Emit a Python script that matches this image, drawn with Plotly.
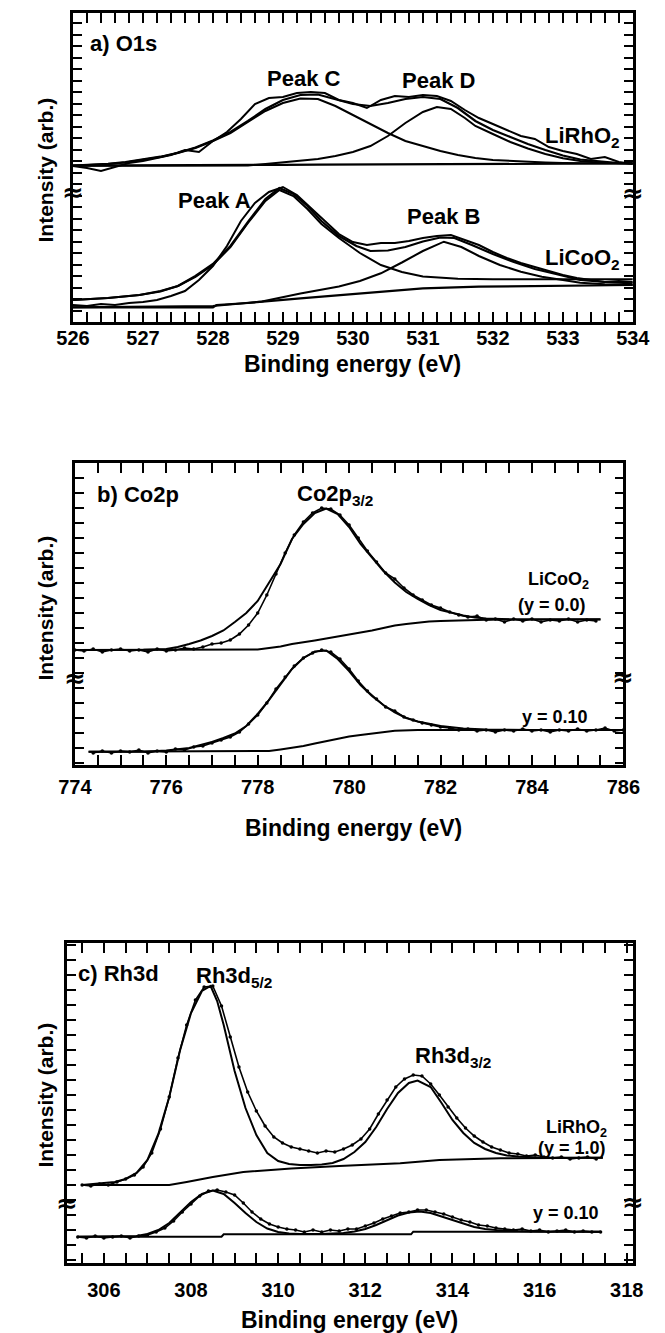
import plotly.graph_objects as go

W, H = 665, 1333
FONT = "Liberation Sans"

# ---------------- a) O1s ----------------
o1s_x_labels = [526, 527, 528, 529, 530, 531, 532, 533, 534]

# LiRhO2 (upper group)
rh_bg_x = [526.0, 528.0, 528.5, 528.75, 529.0, 529.5, 530.5, 531.0, 531.5, 532.0, 532.5, 533.0, 534.0]
rh_bg_y = [156.3, 156.4, 156.5, 156.8, 157.2, 157.3, 157.5, 157.8, 158.0, 158.2, 158.3, 158.4, 158.5]

rh_peakC_x = [526.0, 526.25, 526.5, 526.75, 527.0, 527.25, 527.5, 527.75, 528.0, 528.25, 528.5, 528.75,
              529.0, 529.25, 529.5, 529.75, 530.0, 530.25, 530.5, 530.75, 531.0, 531.25, 531.5, 531.75,
              532.0, 532.25, 532.5, 532.75, 533.0, 533.5, 534.0]
rh_peakC_y = [156.3, 157.0, 158.0, 159.5, 162.0, 165.0, 169.0, 174.0, 181.0, 189.0, 200.0, 211.0,
              219.0, 223.5, 223.0, 216.0, 207.0, 198.0, 189.0, 181.0, 176.0, 171.0, 167.0, 164.0,
              162.0, 161.0, 160.0, 159.5, 159.0, 158.6, 158.5]

rh_peakD_x = [526.0, 528.5, 528.75, 529.0, 529.25, 529.5, 529.75, 530.0, 530.25, 530.5, 530.75, 531.0,
              531.2, 531.4, 531.6, 531.75, 532.0, 532.25, 532.5, 532.75, 533.0, 533.25, 533.5, 534.0]
rh_peakD_y = [156.3, 156.5, 158.0, 159.5, 161.0, 163.0, 166.0, 170.0, 176.0, 186.0, 199.0, 210.0,
              215.0, 213.0, 204.0, 196.0, 188.0, 180.0, 173.5, 168.0, 163.7, 161.0, 159.5, 158.6]

rh_fit_x = [526.0, 526.25, 526.5, 526.75, 527.0, 527.25, 527.5, 527.75, 528.0, 528.25, 528.5, 528.75,
            529.0, 529.25, 529.5, 529.75, 530.0, 530.25, 530.5, 530.75, 531.0, 531.25, 531.5, 531.75,
            532.0, 532.25, 532.5, 532.75, 533.0, 533.25, 533.5, 533.75, 534.0]
rh_fit_y = [156.5, 157.2, 158.2, 159.8, 162.3, 165.3, 169.3, 174.5, 181.5, 190.0, 201.0, 213.0,
            222.0, 227.0, 227.5, 223.0, 218.0, 216.0, 219.0, 223.0, 225.0, 223.0, 214.0, 201.0,
            192.0, 185.0, 178.0, 172.0, 166.5, 162.5, 160.5, 159.2, 158.8]

rh_data_x = [526.0, 526.2, 526.4, 526.6, 526.8, 527.0, 527.2, 527.4, 527.6, 527.8, 528.0, 528.2,
             528.4, 528.6, 528.8, 529.0, 529.2, 529.4, 529.6, 529.8, 530.0, 530.2, 530.4, 530.6,
             530.8, 531.0, 531.2, 531.4, 531.6, 531.8, 532.0, 532.2, 532.4, 532.6, 532.8, 533.0,
             533.2, 533.4, 533.6, 533.8, 534.0]
rh_data_y = [156, 154, 151, 155, 159, 161, 164, 167, 172, 170, 181, 190,
             203, 218, 224, 225, 229, 230, 229, 222, 219, 214, 222, 226,
             225, 227, 226, 221, 212, 204, 198, 192, 186, 183, 175, 171,
             168, 163, 165, 160, 158]

# LiCoO2 (lower group)
co_bg_x = [526.0, 528.0, 528.05, 528.5, 529.25, 530.0, 530.4, 531.0, 531.8, 532.5, 534.0]
co_bg_y = [14.7, 14.7, 17.0, 19.0, 23.7, 28.0, 30.3, 33.7, 35.3, 36.0, 37.0]

co_peakA_x = [526.0, 526.5, 526.95, 527.25, 527.5, 527.75, 528.0, 528.25, 528.5, 528.75, 528.95,
              529.15, 529.35, 529.55, 529.8, 530.1, 530.4, 530.7, 531.0, 531.5, 532.0, 534.0]
co_peakA_y = [22.0, 24.0, 27.0, 30.5, 36.0, 45.0, 57.0, 75.0, 99.0, 121.0, 132.0,
              126.0, 113.0, 98.0, 84.0, 69.0, 57.0, 50.0, 45.5, 43.3, 42.7, 42.7]

co_peakB_x = [526.0, 528.0, 528.4, 528.7, 529.25, 529.8, 530.1, 530.4, 530.7, 531.0, 531.3, 531.55,
              531.8, 532.1, 532.4, 532.7, 533.0, 533.25, 533.6, 534.0]
co_peakB_y = [14.7, 16.0, 18.5, 20.5, 28.5, 35.5, 41.0, 48.7, 59.5, 71.0, 80.3, 75.0,
              66.0, 57.0, 50.3, 45.3, 42.0, 39.3, 37.8, 37.0]

co_fit_x = [526.0, 526.5, 526.95, 527.25, 527.5, 527.75, 528.0, 528.25, 528.5, 528.75, 528.95, 529.15,
            529.35, 529.55, 529.8, 530.05, 530.25, 530.5, 530.75, 531.0, 531.25, 531.45, 531.7, 532.0,
            532.3, 532.6, 532.9, 533.25, 533.6, 534.0]
co_fit_y = [22.0, 24.0, 27.0, 31.0, 36.0, 46.0, 58.0, 76.0, 100.0, 123.0, 134.0, 128.0,
            116.0, 101.0, 86.0, 76.0, 71.0, 71.5, 75.0, 80.5, 84.5, 84.0, 77.0, 68.0,
            60.0, 53.0, 48.0, 42.0, 40.0, 38.7]

co_data_x = rh_data_x
co_data_y = [17, 16, 18, 17, 19, 20, 22, 26, 31, 42, 56, 76,
             101, 119, 130, 135, 127, 114, 101, 88, 80, 77, 79, 79,
             81, 84, 86, 87, 82, 77, 70, 64, 59, 55, 51, 47,
             44, 42, 40, 41, 40]

# ---------------- b) Co2p ----------------
co2p_x_labels = [774, 776, 778, 780, 782, 784, 786]

b0_bg_x = [774.0, 777.5, 778.0, 778.25, 778.5, 778.75, 779.0, 779.25, 779.5, 779.75, 780.0, 780.25,
           780.5, 780.75, 781.0, 781.25, 781.5, 781.75, 782.0, 782.5, 783.0, 785.5]
b0_bg_y = [115, 115, 115.5, 117, 118.5, 121, 122.5, 124.5, 126.5, 128.5, 130.5, 132,
           134.5, 137, 139.5, 141, 142.5, 143.5, 144, 145, 145.3, 145.7]

b0_fit_x = [774.0, 775.0, 775.5, 776.0, 776.25, 776.5, 776.75, 777.0, 777.25, 777.5, 777.75, 778.0,
            778.25, 778.5, 778.75, 779.0, 779.25, 779.5, 779.75, 780.0, 780.25, 780.5, 780.75, 781.0,
            781.25, 781.5, 781.75, 782.0, 782.25, 782.5, 782.75, 783.0, 783.5, 784.0, 785.5]
b0_fit_y = [115, 115, 115.2, 116, 118, 121, 124.5, 129, 134.5, 143, 152, 164,
            182, 201, 226, 241, 252, 256.5, 251, 238, 221, 207, 194, 182.5,
            173, 166, 160, 155, 152, 149.5, 147.5, 146.5, 145.7, 145.5, 145.5]

b0_data_x = [774.0, 774.2, 774.4, 774.6, 774.8, 775.0, 775.2, 775.4, 775.6, 775.8, 776.0, 776.2,
             776.4, 776.6, 776.8, 777.0, 777.2, 777.4, 777.6, 777.8, 778.0, 778.2, 778.4, 778.6,
             778.8, 779.0, 779.2, 779.4, 779.6, 779.8, 780.0, 780.2, 780.4, 780.6, 780.8, 781.0,
             781.2, 781.4, 781.6, 781.8, 782.0, 782.2, 782.4, 782.6, 782.8, 783.0, 783.2, 783.4,
             783.6, 783.8, 784.0, 784.2, 784.4, 784.6, 784.8, 785.0, 785.2, 785.4]
b0_data_y = [115, 114, 116, 113, 115, 116, 114, 115, 113, 116, 114, 115,
             117, 116, 118, 121, 122, 125, 131, 140, 152, 170, 191, 212,
             230, 243, 252, 257, 256, 250, 240, 227, 214, 203, 192, 186,
             177, 170, 165, 160, 157, 153, 150, 148, 149, 145, 146, 143,
             146, 144, 146, 143, 145, 144, 146, 143, 145, 144]

b1_bg_x = [774.3, 778.0, 778.25, 778.5, 778.75, 779.0, 779.25, 779.5, 779.75, 780.0, 780.25, 780.5,
           780.75, 781.0, 781.5, 786.0]
b1_bg_y = [13.3, 13.3, 14, 15.5, 17, 19, 21.5, 24, 26.5, 28.5, 30, 31.5,
           33, 34.3, 35, 35]

b1_fit_x = [774.3, 775.5, 776.0, 776.25, 776.5, 776.75, 777.0, 777.25, 777.5, 777.75, 778.0, 778.25,
            778.5, 778.75, 779.0, 779.25, 779.5, 779.75, 780.0, 780.25, 780.5, 780.75, 781.0, 781.25,
            781.5, 781.75, 782.0, 782.5, 783.0, 784.0, 786.0]
b1_fit_y = [13.3, 13.3, 14.5, 15.5, 17, 20, 23, 27, 31.5, 39, 51, 65,
            80, 96, 107, 113.5, 114.5, 106, 94, 80, 69, 60, 52.5, 47,
            43.5, 41, 39, 36.5, 35.5, 35, 35]

b1_data_x = [774.4, 774.6, 774.8, 775.0, 775.2, 775.4, 775.6, 775.8, 776.0, 776.2, 776.4, 776.6,
             776.8, 777.0, 777.2, 777.4, 777.6, 777.8, 778.0, 778.2, 778.4, 778.6, 778.8, 779.0,
             779.2, 779.4, 779.6, 779.8, 780.0, 780.2, 780.4, 780.6, 780.8, 781.0, 781.2, 781.4,
             781.6, 781.8, 782.0, 782.2, 782.4, 782.6, 782.8, 783.0, 783.2, 783.4, 783.6, 783.8,
             784.0, 784.2, 784.4, 784.6, 784.8, 785.0, 785.2, 785.4, 785.6, 785.8, 786.0]
b1_data_y = [12, 14, 12, 14, 13, 15, 12, 14, 13, 16, 15, 18,
             19, 22, 25, 28, 33, 41, 50, 62, 76, 88, 99, 107,
             112, 115, 113, 106, 96, 84, 74, 66, 58, 54, 48, 45,
             42, 40, 38, 37, 35, 36, 34, 35, 33, 35, 34, 36,
             34, 35, 33, 35, 34, 36, 34, 35, 37, 34, 35]

# ---------------- c) Rh3d ----------------
rh3d_x_labels = [306, 308, 310, 312, 314, 316, 318]

c0_bg_x = [305.5, 307.5, 307.9, 308.5, 309.2, 310.3, 311.4, 312.8, 313.7, 315.1, 317.45]
c0_bg_y = [78, 78, 81, 86, 91, 94.5, 97, 99.7, 103, 104.7, 105.3]

c0_fit_x = [305.5, 306.0, 306.25, 306.5, 306.75, 307.0, 307.25, 307.5, 307.75, 308.0, 308.25, 308.45,
            308.6, 308.75, 309.0, 309.25, 309.5, 309.75, 310.0, 310.25, 310.5, 310.75, 311.0, 311.25,
            311.5, 311.75, 312.0, 312.25, 312.5, 312.75, 313.0, 313.2, 313.5, 313.75, 314.0, 314.25,
            314.5, 314.75, 315.0, 315.25, 315.5, 316.0, 317.45]
c0_fit_y = [78, 79.5, 81, 84, 90, 103, 129, 166, 213, 250, 272, 277,
            262, 238, 192, 155, 128, 110, 102, 99, 98, 98, 98.5, 100,
            104, 111, 121, 136, 154, 170, 180, 182.5, 176, 160, 143, 130,
            120, 114, 110, 107.5, 106.5, 105.5, 105.3]

c0_data_x = [305.5, 305.7, 305.9, 306.1, 306.3, 306.5, 306.7, 306.9, 307.1, 307.3, 307.5, 307.7,
             307.9, 308.1, 308.3, 308.5, 308.7, 308.9, 309.1, 309.3, 309.5, 309.7, 309.9, 310.1,
             310.3, 310.5, 310.7, 310.9, 311.1, 311.3, 311.5, 311.7, 311.9, 312.1, 312.3, 312.5,
             312.7, 312.9, 313.1, 313.3, 313.5, 313.7, 313.9, 314.1, 314.3, 314.5, 314.7, 314.9,
             315.1, 315.3, 315.5, 315.7, 315.9, 316.1, 316.3, 316.5, 316.7, 316.9, 317.1, 317.3]
c0_data_y = [78, 77, 79, 78, 81, 84, 88, 96, 110, 134, 166, 205,
             238, 263, 276, 277, 257, 226, 196, 171, 152, 137, 126, 120,
             116, 114, 112, 110, 112, 111, 114, 118, 124, 134, 149, 163,
             176, 184, 188, 187, 179, 168, 156, 145, 135, 127, 121, 116,
             113, 110, 109, 107, 108, 106, 105, 106, 104, 105, 106, 104]

c1_bg_x = [305.4, 308.7, 308.75, 313.05, 313.1, 317.4]
c1_bg_y = [26.3, 26.3, 28.7, 28.7, 31.3, 31.3]

c1_fit_x = [305.4, 306.5, 306.75, 307.0, 307.25, 307.5, 307.75, 308.0, 308.25, 308.5, 308.75, 309.0,
            309.25, 309.5, 309.75, 310.0, 310.25, 310.5, 311.0, 311.5, 311.75, 312.0, 312.25, 312.5,
            312.75, 313.0, 313.25, 313.5, 313.75, 314.0, 314.25, 314.5, 314.75, 315.0, 315.5, 316.0, 317.4]
c1_fit_y = [26.3, 26.5, 27, 29, 33, 40, 50, 61, 69, 72.5, 69, 60,
            50, 41, 34.5, 31, 29.5, 29, 29, 30, 31.5, 34, 38, 43,
            47.5, 50.5, 51.5, 50, 46.5, 42.5, 39, 36, 34, 33, 32, 31.5, 31.3]

c1_data_x = [305.4, 305.6, 305.8, 306.0, 306.2, 306.4, 306.6, 306.8, 307.0, 307.2, 307.4, 307.6,
             307.8, 308.0, 308.2, 308.4, 308.6, 308.8, 309.0, 309.2, 309.4, 309.6, 309.8, 310.0,
             310.2, 310.4, 310.6, 310.8, 311.0, 311.2, 311.4, 311.6, 311.8, 312.0, 312.2, 312.4,
             312.6, 312.8, 313.0, 313.2, 313.4, 313.6, 313.8, 314.0, 314.2, 314.4, 314.6, 314.8,
             315.0, 315.2, 315.4, 315.6, 315.8, 316.0, 316.2, 316.4, 316.6, 316.8, 317.0, 317.2, 317.4]
c1_data_y = [26, 25, 27, 25, 26, 27, 25, 27, 28, 31, 35, 42,
             51, 59, 67, 72, 73, 71, 68, 60, 51, 44, 39, 36,
             34, 33, 31, 33, 31, 33, 32, 34, 34, 37, 40, 44,
             47, 50, 51, 53, 53, 51, 49, 46, 43, 41, 38, 37,
             35, 34, 33, 34, 32, 33, 31, 32, 33, 31, 32, 31, 31]

# ---------------- figure ----------------
fig = go.Figure()


def line(x, y, ax, width=2.0, markers=False):
    fig.add_trace(go.Scatter(
        x=x, y=y, xaxis="x" + ax, yaxis="y" + ax,
        mode="lines+markers" if markers else "lines",
        line=dict(color="black", width=width),
        marker=dict(color="black", size=3.5),
        showlegend=False, hoverinfo="skip"))


# panel a
for xs, ys, w in [(rh_bg_x, rh_bg_y, 2.2), (rh_peakC_x, rh_peakC_y, 2.0), (rh_peakD_x, rh_peakD_y, 2.0),
                  (rh_fit_x, rh_fit_y, 2.2), (rh_data_x, rh_data_y, 2.0),
                  (co_bg_x, co_bg_y, 2.2), (co_peakA_x, co_peakA_y, 2.0), (co_peakB_x, co_peakB_y, 2.0),
                  (co_fit_x, co_fit_y, 2.2), (co_data_x, co_data_y, 2.0)]:
    line(xs, ys, "", w)
# panel b
for xs, ys in [(b0_bg_x, b0_bg_y), (b0_fit_x, b0_fit_y), (b1_bg_x, b1_bg_y), (b1_fit_x, b1_fit_y)]:
    line(xs, ys, "2", 2.0)
line(b0_data_x, b0_data_y, "2", 1.6, True)
line(b1_data_x, b1_data_y, "2", 1.6, True)
# panel c
for xs, ys in [(c0_bg_x, c0_bg_y), (c0_fit_x, c0_fit_y), (c1_bg_x, c1_bg_y), (c1_fit_x, c1_fit_y)]:
    line(xs, ys, "3", 2.0)
line(c0_data_x, c0_data_y, "3", 1.6, True)
line(c1_data_x, c1_data_y, "3", 1.6, True)


def px_x(p):
    return p / W


def px_y(p):
    return 1 - p / H


def frange(start, stop, step):
    n = int(round((stop - start) / step))
    return [round(start + i * step, 4) for i in range(n + 1)]


def xaxis(dom, rng, labels, first, last, step, anchor, standoff):
    vals = frange(first, last, step)
    txt = [str(int(round(v))) if any(abs(v - l) < 1e-6 for l in labels) else " " for v in vals]
    return dict(domain=dom, range=rng, anchor=anchor, tickmode="array", tickvals=vals, ticktext=txt,
                tickangle=0,
                showline=True, linecolor="black", linewidth=2.5, mirror="ticks",
                ticks="inside", ticklen=10, tickwidth=2, tickcolor="black",
                showgrid=False, zeroline=False, ticklabelstandoff=standoff,
                tickfont=dict(family=FONT, size=20, color="black", weight="bold"))


def yaxis(dom, rng, first, step, anchor):
    return dict(domain=dom, range=rng, anchor=anchor, tickmode="array",
                tickvals=frange(first, rng[1] - 1, step),
                showline=True, linecolor="black", linewidth=2.5, mirror="ticks",
                ticks="inside", ticklen=9, tickwidth=2, tickcolor="black",
                showticklabels=False, showgrid=False, zeroline=False)


fig.update_layout(
    width=W, height=H, autosize=False,
    margin=dict(l=0, r=0, t=0, b=0),
    paper_bgcolor="white", plot_bgcolor="white",
    xaxis=xaxis([px_x(59), px_x(649)], [526, 534], o1s_x_labels, 526, 534, 0.2, "y", -4),
    yaxis=yaxis([px_y(322), px_y(13)], [0, 309], 0, 11.5, "x"),
    xaxis2=xaxis([px_x(61), px_x(639)], [774, 786], co2p_x_labels, 774, 786, 0.5, "y2", 2),
    yaxis2=yaxis([px_y(765), px_y(463)], [0, 302], 2, 15, "x2"),
    xaxis3=xaxis([px_x(53), px_x(649)], [305.16, 318.14], rh3d_x_labels, 305.5, 318, 0.5, "y3", 7),
    yaxis3=yaxis([px_y(1263), px_y(943)], [0, 320], 3, 15, "x3"),
)

ann = []


def text(t, x, y, ax, size=22, xanchor="center", yanchor="middle", angle=0, ref="data", family=FONT):
    if ref == "data":
        xr, yr = "x" + ax, "y" + ax
    else:
        xr, yr = "paper", "paper"
    ann.append(dict(text=t, x=x, y=y, xref=xr, yref=yr, showarrow=False,
                    xanchor=xanchor, yanchor=yanchor, textangle=angle,
                    font=dict(family=family, size=size, color="black", weight="bold")))


# panel a labels
text("a) O1s", 526.22, 278.7, "", xanchor="left")
text("Peak C", 529.3, 243.7, "")
text("Peak D", 531.22, 242, "")
text("Peak A", 528.02, 122, "")
text("Peak B", 531.3, 105.3, "")
text("LiRhO<sub>2</sub>", 533.85, 185, "", xanchor="right")
text("LiCoO<sub>2</sub>", 533.85, 63, "", xanchor="right")
# panel b labels
text("b) Co2p", 774.45, 270, "2", xanchor="left")
text("Co2p<sub>3/2</sub>", 779.7, 270, "2")
text("LiCoO<sub>2</sub>", 785.3, 185, "2", size=18, xanchor="right")
text("(y = 0.0)", 784.45, 160, "2", size=18)
text("y = 0.10", 784.5, 48, "2", size=18)
# panel c labels
text("c) Rh3d", 305.35, 289.7, "3", xanchor="left")
text("Rh3d<sub>5/2</sub>", 308.98, 286, "3")
text("Rh3d<sub>3/2</sub>", 314.02, 206, "3")
text("LiRhO<sub>2</sub>", 317.6, 135, "3", size=18, xanchor="right")
text("(y = 1.0)", 316.75, 115, "3", size=18)
text("y = 0.10", 316.6, 50, "3", size=18)

# axis titles
for yc in [170, 608, 1095]:
    text("Intensity (arb.)", px_x(30), px_y(yc), "", size=21, angle=-90, ref="paper")
for yc, xc in [(364, 354), (828, 355), (1320, 350)]:
    text("Binding energy (eV)", px_x(xc), px_y(yc), "", size=23, ref="paper")

# axis break marks
for xp, yp in [(59, 192), (649, 193), (61, 678), (639, 677), (53, 1203), (649, 1202)]:
    text("≈", px_x(xp), px_y(yp), "", size=26, ref="paper", family="DejaVu Sans")

fig.update_layout(annotations=ann)
fig.write_html("out.html")
